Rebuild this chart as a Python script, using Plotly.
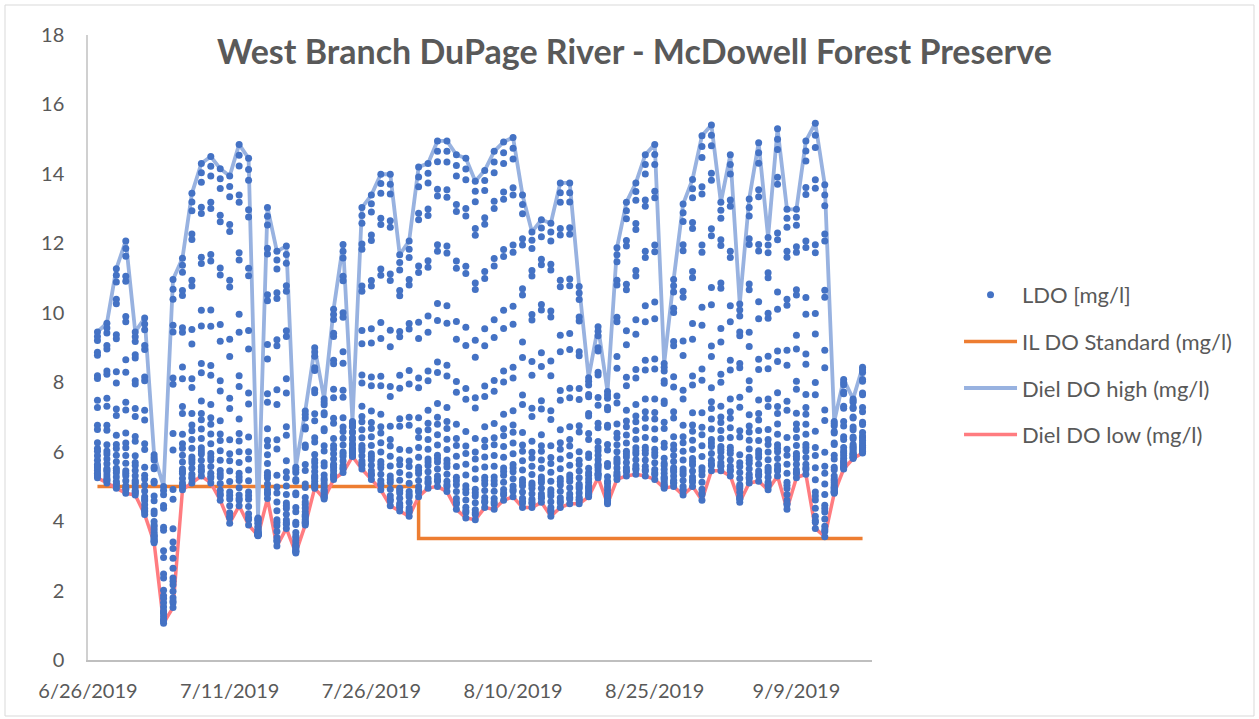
import pandas as pd
import plotly.graph_objects as go

# Daily diel high / low dissolved oxygen (mg/l), one value per day starting 6/27/2019
HIGH = [9.45, 9.70, 11.27, 12.07, 9.45, 9.85, 5.91, 5.00, 10.96, 11.57,
        13.44, 14.30, 14.50, 14.15, 13.94, 14.85, 14.45, 4.09, 13.03, 11.77,
        11.92, 5.55, 7.17, 8.99, 7.52, 10.10, 11.97, 6.87, 13.03, 13.39,
        13.99, 13.99, 11.67, 12.07, 14.20, 14.30, 14.95, 14.95, 14.55, 14.45,
        13.79, 14.10, 14.65, 14.92, 15.05, 13.39, 12.33, 12.68, 12.58, 13.74,
        13.74, 10.76, 8.13, 9.60, 7.73, 11.87, 13.18, 13.74, 14.55, 14.85,
        8.54, 10.96, 13.13, 13.84, 15.10, 15.41, 13.18, 14.55, 10.25, 13.28,
        14.90, 12.17, 15.30, 12.98, 12.98, 14.95, 15.46, 13.69, 6.87, 8.08,
        7.52, 8.43]
LOW = [5.25, 5.10, 4.95, 4.80, 4.75, 4.19, 3.38, 1.06, 1.51, 4.90,
       5.10, 5.30, 5.10, 4.60, 3.94, 4.44, 3.89, 3.58, 4.65, 3.28,
       3.79, 3.08, 3.89, 4.95, 4.64, 5.20, 5.40, 5.86, 5.50, 5.20,
       4.90, 4.44, 4.29, 4.14, 4.70, 4.95, 5.00, 4.85, 4.34, 4.09,
       4.04, 4.39, 4.34, 4.60, 4.70, 4.39, 4.39, 4.54, 4.14, 4.39,
       4.50, 4.50, 4.70, 5.25, 4.50, 5.20, 5.30, 5.35, 5.30, 5.20,
       4.95, 5.00, 4.75, 5.00, 4.60, 5.45, 5.45, 5.30, 4.54, 5.10,
       5.15, 4.90, 5.30, 4.34, 5.25, 5.35, 3.79, 3.55, 4.80, 5.50,
       5.80, 5.96]
START_DATE = "2019-06-27"
DATES = pd.date_range(START_DATE, periods=len(HIGH), freq="D")

# Typical position of each hourly LDO reading within the day's low-high range (read from the columns)
DIEL_FRACTION = [0.12, 0.09, 0.07, 0.05, 0.03, 0.015, 0.0, 0.02, 0.08, 0.20,
                 0.36, 0.53, 0.70, 0.84, 0.94, 1.0, 0.97, 0.86, 0.68, 0.48,
                 0.33, 0.24, 0.18, 0.15]

# IL DO standard (mg/l)
STD_DATES = ["2019-06-27", "2019-07-31", "2019-09-16"]
STD_VALUES = [5.0, 3.5, 3.5]

TICK_LABELS = ["6/26/2019", "7/11/2019", "7/26/2019", "8/10/2019", "8/25/2019", "9/9/2019"]
TICK_DATES = ["2019-06-26", "2019-07-11", "2019-07-26", "2019-08-10", "2019-08-25", "2019-09-09"]

ldo_x, ldo_y = [], []
for d, lo, hi in zip(DATES, LOW, HIGH):
    for f in DIEL_FRACTION:
        ldo_x.append(d)
        ldo_y.append(round(lo + f * (hi - lo), 2))

FONT = "Lato"
GRAY = "#595959"

fig = go.Figure()
fig.add_trace(go.Scatter(x=STD_DATES, y=STD_VALUES, mode="lines", line_shape="hv",
                         name="IL DO Standard (mg/l)", line=dict(color="#ED7D31", width=3.5),
                         legendrank=2, legendgroup="g2"))
fig.add_trace(go.Scatter(x=DATES, y=HIGH, mode="lines", name="Diel DO high (mg/l)",
                         line=dict(color="#98B2E0", width=3.8), legendrank=3, legendgroup="g3"))
fig.add_trace(go.Scatter(x=DATES, y=LOW, mode="lines", name="Diel DO low (mg/l)",
                         line=dict(color="#FF7C80", width=3.5), legendrank=4, legendgroup="g4"))
fig.add_trace(go.Scatter(x=ldo_x, y=ldo_y, mode="markers", name="LDO [mg/l]",
                         marker=dict(color="#4472C4", size=7), legendrank=1, legendgroup="g1"))

fig.update_layout(
    width=1259, height=719,
    margin=dict(l=88, r=387, t=35, b=59),
    paper_bgcolor="white", plot_bgcolor="white",
    font=dict(family=FONT, color=GRAY),
    title=dict(text="West Branch DuPage River - McDowell Forest Preserve",
               font=dict(family=FONT, size=34, color=GRAY, weight="bold"),
               x=0.697, xref="paper", xanchor="center", y=1 - 52 / 719, yanchor="middle"),
    showlegend=True,
    legend=dict(x=1.111, xanchor="left", y=0.472, yanchor="middle",
                font=dict(family=FONT, size=22, color=GRAY),
                itemwidth=53, tracegroupgap=15, bgcolor="rgba(0,0,0,0)"),
    xaxis=dict(type="date", range=["2019-06-26", "2019-09-17"],
               tickvals=TICK_DATES, ticktext=TICK_LABELS,
               showgrid=False, zeroline=False, showline=True, linecolor="#BFBFBF", linewidth=1.5,
               ticks="", tickfont=dict(family=FONT, size=20, color=GRAY), ticklabelstandoff=12),
    yaxis=dict(range=[0, 18], dtick=2, showgrid=False, zeroline=False, showline=True,
               linecolor="#D0D0D0", linewidth=1.5, ticks="",
               tickfont=dict(family=FONT, size=20, color=GRAY), ticklabelstandoff=18),
    shapes=[dict(type="rect", xref="paper", yref="paper",
                 x0=(5 - 88) / 784, x1=(1254 - 88) / 784,
                 y0=(660 - 716) / 625, y1=(660 - 5) / 625,
                 line=dict(color="#D9D9D9", width=1), layer="below")],
)

fig.write_html("out.html", config={"displayModeBar": False},
               post_script="document.body.style.margin='0';")
